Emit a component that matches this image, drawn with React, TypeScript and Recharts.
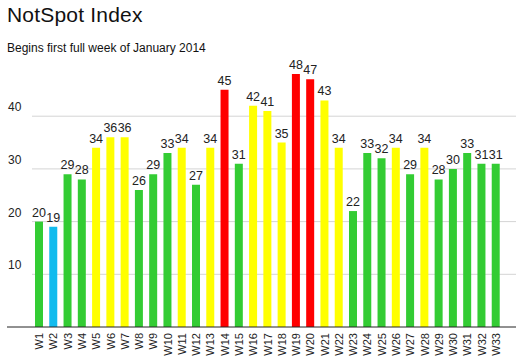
import React from "react";
import { BarChart, Bar, XAxis, YAxis, CartesianGrid, Cell, LabelList } from "recharts";

const weeks = ["W1","W2","W3","W4","W5","W6","W7","W8","W9","W10","W11","W12","W13","W14","W15","W16","W17","W18","W19","W20","W21","W22","W23","W24","W25","W26","W27","W28","W29","W30","W31","W32","W33"];
const values = [20,19,29,28,34,36,36,26,29,33,34,27,34,45,31,42,41,35,48,47,43,34,22,33,32,34,29,34,28,30,33,31,31];
const colorKeys = ["g","b","g","g","y","y","y","g","g","g","y","g","y","r","g","y","y","y","r","r","y","y","g","g","g","y","g","y","g","g","g","g","g"];
const palette: Record<string, string> = { g: "#33cc33", b: "#11bbee", y: "#ffff00", r: "#ff0000" };
const yTicks = [0, 10, 20, 30, 40];
const gridValues = [10, 20, 30, 40];

const data = weeks.map((w, i) => ({ week: w, value: values[i], color: palette[colorKeys[i]] }));

const FONT = "'Liberation Sans', Arial, Helvetica, sans-serif";

const YTick = (props: any) => {
  const { y, payload } = props;
  if (payload.value === 0) {
    return <line x1={7} x2={32} y1={y} y2={y} stroke="#222" strokeWidth={1} />;
  }
  return (
    <text x={8} y={y - 5} fontSize={12} fill="#222" fontFamily={FONT} textAnchor="start">
      {payload.value}
    </text>
  );
};

const XTick = (props: any) => {
  const { x, y, payload } = props;
  return (
    <text
      x={0}
      y={0}
      transform={`translate(${x + 4},${y - 2}) rotate(-90)`}
      fontSize={11}
      fill="#222"
      fontFamily={FONT}
      textAnchor="end"
    >
      {payload.value}
    </text>
  );
};

export default function App() {
  return (
    <div style={{ position: "absolute", left: 0, top: 0, width: 516, height: 359, background: "#fff", fontFamily: FONT }}>
      <div style={{ position: "absolute", left: 7, top: 4, fontSize: 21, lineHeight: "21px", letterSpacing: 0.2, color: "#111", whiteSpace: "nowrap" }}>
        NotSpot Index
      </div>
      <div style={{ position: "absolute", left: 7, top: 42, fontSize: 12, lineHeight: "12px", color: "#111", whiteSpace: "nowrap" }}>
        Begins first full week of January 2014
      </div>
      <BarChart
        width={516}
        height={359}
        data={data}
        margin={{ top: 63.5, right: 0, bottom: 0, left: 0 }}
        barCategoryGap={3}
      >
        <CartesianGrid horizontal={true} vertical={false} stroke="#d4d4d4" horizontalValues={gridValues} />
        <XAxis
          dataKey="week"
          interval={0}
          height={32}
          tickLine={false}
          axisLine={{ stroke: "#222" }}
          tick={<XTick />}
          padding={{ left: 0, right: 13 }}
        />
        <YAxis
          width={32}
          domain={[0, 50]}
          ticks={yTicks}
          axisLine={false}
          tickLine={false}
          tick={<YTick />}
        />
        <Bar dataKey="value" isAnimationActive={false}>
          {data.map((d, i) => (
            <Cell key={i} fill={d.color} />
          ))}
          <LabelList dataKey="value" position="top" offset={5} fontSize={12.5} fill="#222" fontFamily={FONT} />
        </Bar>
      </BarChart>
    </div>
  );
}
